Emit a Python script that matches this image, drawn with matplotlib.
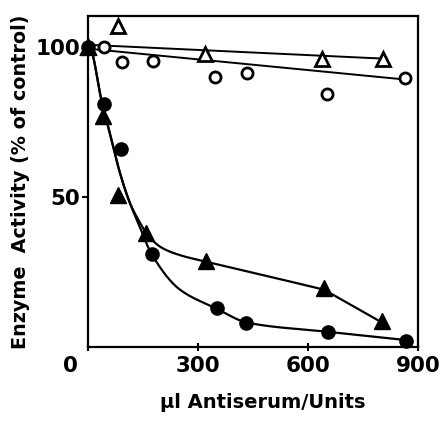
import numpy as np
import matplotlib
matplotlib.use("Agg")
import matplotlib.pyplot as plt
from matplotlib.transforms import ScaledTranslation

# ---- data ----
open_tri_x = [0, 81, 319, 637, 804]
open_tri_y = [100, 107, 97.5, 96, 96]
open_circ_x = [43, 92, 176, 346, 434, 650, 865]
open_circ_y = [100, 95, 95.3, 89.8, 91.3, 84.2, 89.4]
fill_circ_x = [0, 43, 90, 173, 350, 431, 653, 867]
fill_circ_y = [100, 81, 66, 31, 12.8, 8, 4.8, 2]
fill_tri_x = [0, 41, 80, 156, 322, 643, 802]
fill_tri_y = [100, 77, 50.6, 38, 28.5, 19.5, 8.5]

# fitted lines / curves as drawn on the figure
open_tri_line_x = [0, 804]
open_tri_line_y = [100.6, 96]
open_circ_line_x = [0, 867]
open_circ_line_y = [99.3, 89]
tri_curve_x = [0, 5, 36, 59, 86, 113, 140, 160, 200, 250, 322, 438, 643]
tri_curve_y = [100, 99.5, 82, 71, 58, 48, 41.5, 37.5, 33, 30.5, 28.3, 25, 19]
tri_tail_x = [643, 802]
tri_tail_y = [19, 8]
circ_curve_x = [0, 5, 36, 59, 86, 113, 140, 172, 250, 348, 434, 650, 867]
circ_curve_y = [100, 99.5, 82, 71, 58, 48, 40, 31, 19, 12.8, 8, 5, 2.2]

x_ticks = [0, 300, 600, 900]
y_ticks = [50, 100]


def pchip(x, y, n=400):
    x = np.asarray(x, float); y = np.asarray(y, float)
    h = np.diff(x); d = np.diff(y) / h
    m = np.zeros_like(y)
    for k in range(1, len(x) - 1):
        if d[k - 1] * d[k] > 0:
            w1 = 2 * h[k] + h[k - 1]; w2 = h[k] + 2 * h[k - 1]
            m[k] = (w1 + w2) / (w1 / d[k - 1] + w2 / d[k])
    m[0] = d[0]; m[-1] = d[-1]
    xs = np.linspace(x[0], x[-1], n)
    idx = np.clip(np.searchsorted(x, xs) - 1, 0, len(h) - 1)
    t = (xs - x[idx]) / h[idx]
    hh = h[idx]
    h00 = 2*t**3 - 3*t**2 + 1; h10 = t**3 - 2*t**2 + t
    h01 = -2*t**3 + 3*t**2; h11 = t**3 - t**2
    ys = h00*y[idx] + h10*hh*m[idx] + h01*y[idx+1] + h11*hh*m[idx+1]
    return xs, ys


plt.rcParams['font.family'] = ['DejaVu Sans']
fig = plt.figure(figsize=(4.44, 4.21), dpi=100)
ax = fig.add_axes([0.199, 0.1765, 0.743, 0.7855])

k = 'black'
ax.plot(open_tri_line_x, open_tri_line_y, color=k, lw=1.4)
ax.plot(open_circ_line_x, open_circ_line_y, color=k, lw=1.4)
cx, cy = pchip(tri_curve_x, tri_curve_y)
ax.plot(np.r_[cx, tri_tail_x[1:]], np.r_[cy, tri_tail_y[1:]], color=k, lw=1.6)
cx, cy = pchip(circ_curve_x, circ_curve_y)
ax.plot(cx, cy, color=k, lw=1.6)

ax.plot(open_tri_x, open_tri_y, '^', ms=10, mfc='white', mec=k, mew=2, ls='none', clip_on=False)
ax.plot(open_circ_x, open_circ_y, 'o', ms=8, mfc='white', mec=k, mew=2, ls='none', clip_on=False)
ax.plot(fill_circ_x, fill_circ_y, 'o', ms=9.5, color=k, ls='none', clip_on=False)
ax.plot(fill_tri_x, fill_tri_y, '^', ms=11, color=k, ls='none', clip_on=False)

ax.set_xlim(0, 900)
ax.set_ylim(0, 110.2)
ax.set_xticks(x_ticks)
ax.set_yticks(y_ticks)
ax.set_xticklabels([str(v) for v in x_ticks], fontsize=15.5, fontweight='bold')
ax.set_yticklabels([str(v) for v in y_ticks], fontsize=15.5, fontweight='bold')
ax.tick_params(axis='both', direction='inout', length=6, width=1.5, pad=4)
ax.tick_params(axis='y', direction='out', length=4, pad=2)
for s in ax.spines.values():
    s.set_linewidth(1.6)
lab0 = ax.get_xticklabels()[0]
lab0.set_transform(lab0.get_transform() + ScaledTranslation(-18/100, 0, fig.dpi_scale_trans))

ax.set_xlabel('\u03bcl Antiserum/Units', fontsize=14, fontweight='bold')
ax.set_ylabel('Enzyme  Activity (% of control)', fontsize=13.8, fontweight='bold')
ax.xaxis.set_label_coords(0.53, -0.14)
ax.yaxis.set_label_coords(-0.177, 0.5)

fig.savefig('out.png', dpi=100)
